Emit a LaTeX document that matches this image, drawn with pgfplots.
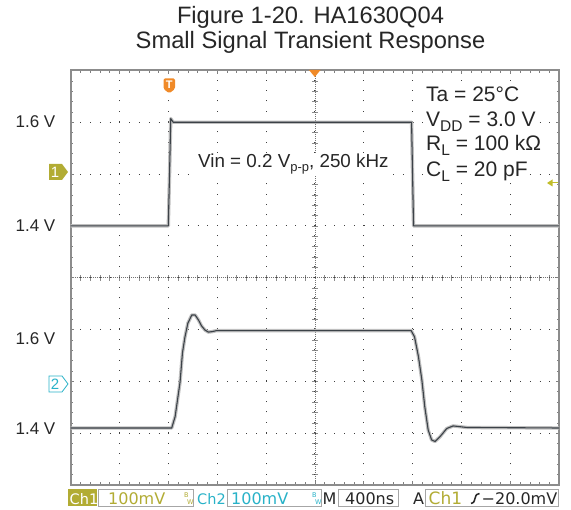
\documentclass[border=0pt]{standalone}
\usepackage{fontspec}
\setmainfont{Liberation Sans}
\newfontfamily\tekfont{DejaVu Sans}
\usepackage{pgfplots}
\usepackage{pgfplotstable}
\pgfplotsset{compat=1.18}

\definecolor{tekolive}{RGB}{178,172,52}
\definecolor{tekteal}{RGB}{40,178,200}
\definecolor{tekorange}{RGB}{240,138,40}
\definecolor{tracecore}{RGB}{60,66,72}

% time and level in screen divisions (400 ns/div, 100 mV/div)
\pgfplotstableread{
t v
0    5.00
2.00 5.00
2.03 6.20
2.05 7.07
2.10 7.00
6.98 7.00
7.00 6.00
7.02 5.00
10   5.00
}\chone

\pgfplotstableread{
t v
0    1.10
2.07 1.10
2.14 1.32
2.24 1.98
2.29 2.55
2.34 2.85
2.40 3.12
2.48 3.28
2.55 3.28
2.62 3.18
2.68 3.07
2.75 2.99
2.82 2.95
2.90 2.96
2.99 2.98
6.97 2.98
7.04 2.86
7.12 2.48
7.19 2.03
7.25 1.51
7.32 1.06
7.39 0.87
7.46 0.84
7.56 0.93
7.70 1.09
7.83 1.14
8.11 1.11
10   1.10
}\chtwo

\newcommand\sub[1]{\raisebox{-4.5bp}{\fontsize{15.5bp}{15.5bp}\selectfont #1}}
\newcommand\bw[1]{\tikz[baseline=0pt]{\node[inner sep=0,anchor=base west,text=#1,font=\tekfont\fontsize{6.5bp}{6.5bp}\selectfont] at (0,6.5bp) {B};\node[inner sep=0,anchor=base west,text=#1,font=\tekfont\fontsize{6.5bp}{6.5bp}\selectfont] at (3bp,0) {W};}}

\begin{document}
\begin{tikzpicture}[x=1bp,y=1bp]
% centre cross with fine ticks
\begin{axis}[
    at={(70.6bp,25bp)}, anchor=south west,
    scale only axis, width=488.5bp, height=414.6bp,
    xmin=-5, xmax=5, ymin=-4, ymax=4,
    axis lines=middle,
    axis line style={-, black!55, line width=0.6bp, dash pattern=on 0.7bp off 1.3bp},
    xtick={-5,...,5}, ytick={-4,...,4},
    minor x tick num=4, minor y tick num=4,
    xticklabel=\empty, yticklabel=\empty,
    tick align=center, major tick length=6bp, minor tick length=6bp,
    tick style={black!45, solid, line width=0.5bp},
]
\end{axis}

\begin{axis}[
    at={(70.6bp,25bp)}, anchor=south west,
    scale only axis, width=488.5bp, height=414.6bp,
    xmin=0, xmax=10, ymin=0, ymax=8,
    xtick={0,...,10}, ytick={0,...,8},
    minor x tick num=4, minor y tick num=4,
    xticklabel=\empty, yticklabel=\empty,
    tick align=inside, major tick length=3.5bp, minor tick length=2.5bp,
    tick style={black!50, line width=0.5bp},
    xmajorgrids, ymajorgrids,
    x grid style={black!75, line width=1bp, dash pattern=on 1bp off 9.37bp},
    y grid style={black!75, line width=1bp, dash pattern=on 1bp off 8.77bp},
    axis line style={black!45, line width=2.2bp},
]
\addplot[no marks, color=gray!50, line width=3.4bp, line join=round] table {\chone};
\addplot[no marks, color=tracecore, line width=1.1bp, line join=round] table {\chone};
\addplot[no marks, color=gray!50, line width=3.4bp, line join=round] table {\chtwo};
\addplot[no marks, color=tracecore, line width=1.1bp, line join=round] table {\chtwo};
\end{axis}

% title
\node[anchor=base, font=\fontsize{23.7bp}{26bp}\selectfont, text=black!85] at (310.5,486) {Figure 1-20. HA1630Q04};
\node[anchor=base, font=\fontsize{23.7bp}{26bp}\selectfont, text=black!85] at (310.5,461) {Small Signal Transient Response};

% level labels
\foreach \yy/\lab in {382.3/1.6 V, 278.3/1.4 V, 165/1.6 V, 75/1.4 V}
  \node[anchor=base east, inner sep=0, font=\fontsize{17bp}{17bp}\selectfont, text=black!85] at (55.5,\yy) {\lab};

% conditions
\begin{scope}[every node/.style={anchor=base west, inner sep=1.5bp, fill=white, font=\fontsize{21bp}{21bp}\selectfont, text=black!85}]
\node at (424.5,408) {Ta = 25°C};
\node at (424.5,383) {V\sub{DD} = 3.0 V};
\node at (424.5,359) {R\sub{L} = 100 kΩ};
\node at (424.5,333) {C\sub{L} = 20 pF};
\end{scope}
\node[anchor=base west, inner sep=1.5bp, fill=white, font=\fontsize{18.8bp}{18.8bp}\selectfont, text=black!85] at (196.5,342)
  {Vin = 0.2 V\raisebox{-4bp}{\fontsize{13bp}{13bp}\selectfont p-p}, 250 kHz};

% channel and trigger markers
\fill[tekolive] (49,330) -- (62,330) -- (68,338) -- (62,346) -- (49,346) -- cycle;
\node[text=white, font=\fontsize{15bp}{15bp}\selectfont, inner sep=0] at (55,338) {1};
\draw[tekteal, fill=white, line width=0.8bp] (49,118) -- (62,118) -- (68,126) -- (62,134) -- (49,134) -- cycle;
\node[text=tekteal, font=\fontsize{15bp}{15bp}\selectfont, inner sep=0] at (55,126) {2};
\fill[tekorange, rounded corners=1.5bp] (163.5,421) -- (163.5,431.7) -- (175,431.7) -- (175,421) -- (169.25,416.7) -- cycle;
\node[text=white, font=\bfseries\fontsize{11bp}{11bp}\selectfont, inner sep=0] at (169.25,425.3) {T};
\fill[tekorange] (309,440) -- (320.5,440) -- (314.8,433) -- cycle;
\fill[tekolive!80!yellow] (547,327) -- (552.5,330.5) -- (552.5,323.5) -- cycle;
\draw[tekolive!80!yellow, line width=1bp] (552,327) -- (558,327);

% status bar
\begin{scope}[every node/.style={anchor=base west, inner sep=0}]
\fill[tekolive] (68.3,3.5) rectangle (96.7,20.5);
\node[text=white, font=\tekfont\fontsize{14.5bp}{14.5bp}\selectfont] at (69.5,5.5) {Ch1};
\draw[black!35, fill=white, line width=0.8bp] (98.3,3.5) rectangle (193.3,20.5);
\node[text=tekolive, font=\tekfont\fontsize{16bp}{16bp}\selectfont] at (108,5.5) {100mV};
\node at (184,5.5) {\bw{tekolive}};
\node[text=tekteal, font=\tekfont\fontsize{14.5bp}{14.5bp}\selectfont] at (197,5.5) {Ch2};
\draw[black!35, fill=white, line width=0.8bp] (227,3.5) rectangle (321,20.5);
\node[text=tekteal, font=\tekfont\fontsize{16bp}{16bp}\selectfont] at (231,5.5) {100mV};
\node at (312,5.5) {\bw{tekteal}};
\node[text=black!85, font=\tekfont\fontsize{16bp}{16bp}\selectfont] at (322.5,5.5) {M};
\draw[black!35, fill=white, line width=0.8bp] (338,3.5) rectangle (398,20.5);
\node[text=black!85, font=\tekfont\fontsize{16bp}{16bp}\selectfont] at (345,5.5) {400ns};
\node[text=black!85, font=\tekfont\fontsize{16bp}{16bp}\selectfont] at (413,5.5) {A};
\draw[black!35, fill=white, line width=0.8bp] (425,3.5) rectangle (558.5,20.5);
\node[text=tekolive, font=\tekfont\fontsize{17bp}{17bp}\selectfont] at (428.5,5.5) {Ch1};
\draw[black!85, line width=1.5bp] (471,6.5) .. controls (473.5,6.5) and (474,8) .. (475,11.5) .. controls (476,15) and (476.5,16.5) .. (479.5,16.5);
\node[text=black!85, font=\tekfont\fontsize{16bp}{16bp}\selectfont] at (481.5,5.5) {−20.0mV};
\end{scope}

\pgfresetboundingbox
\path[use as bounding box] (0,0) rectangle (571,510);
\end{tikzpicture}
\end{document}
